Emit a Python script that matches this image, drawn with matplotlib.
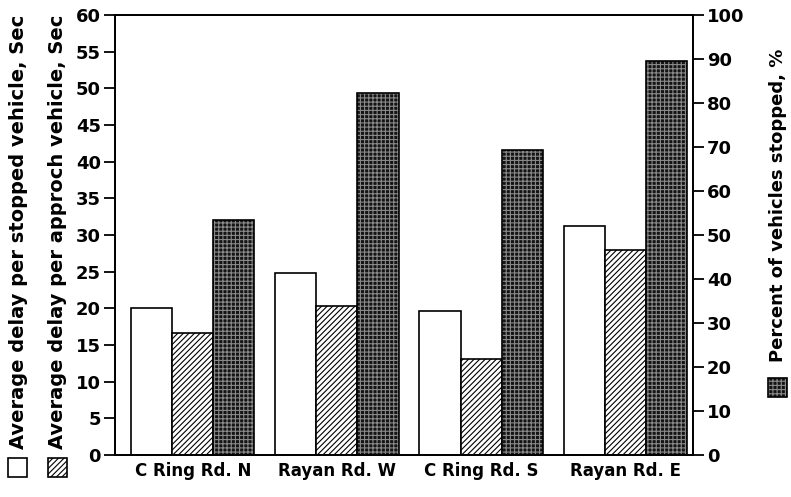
import numpy as np
import matplotlib
matplotlib.use("Agg")
import matplotlib.pyplot as plt
from matplotlib.patches import Rectangle

plt.rcParams["font.family"] = ["DejaVu Sans"]
plt.rcParams["font.weight"] = "bold"
plt.rcParams["hatch.linewidth"] = 0.8

# data
approaches = ["C Ring Rd. N", "Rayan Rd. W", "C Ring Rd. S", "Rayan Rd. E"]
delay_stopped = [20.0, 24.8, 19.7, 31.2]      # sec, left axis
delay_approach = [16.6, 20.3, 13.1, 28.0]     # sec, left axis
pct_stopped = [53.3, 82.2, 69.2, 89.5]        # %, right axis

fig = plt.figure(figsize=(7.91, 4.97), dpi=100)
ax = fig.add_axes([0.1454, 0.0845, 0.7306, 0.8855])
ax2 = ax.twinx()

x = np.arange(len(approaches))
w = 0.285

ax.bar(x - w, delay_stopped, w, color="white", edgecolor="black", linewidth=1.2)
ax.bar(x, delay_approach, w, color="white", edgecolor="black", hatch="//////", linewidth=1.2)
# dark stippled bars: dense grey grid on near-black face
ax2.bar(x + w, pct_stopped, w, color="#141414", edgecolor="#8a8a8a", hatch="++++", linewidth=0)
ax2.bar(x + w, pct_stopped, w, fill=False, edgecolor="black", linewidth=1.2)

ax.set_xlim(-0.54, 3.47)
ax.set_ylim(0, 60)
ax2.set_ylim(0, 100)
ax.set_yticks(np.arange(0, 61, 5))
ax2.set_yticks(np.arange(0, 101, 10))
ax.set_xticks(x)
ax.set_xticklabels(approaches, fontsize=12, fontweight="bold")

for a in (ax, ax2):
    for s in a.spines.values():
        s.set_linewidth(1.3)
ax.tick_params(axis="y", direction="out", length=8, width=1.3, labelsize=13, pad=2)
ax2.tick_params(axis="y", direction="out", length=8, width=1.3, labelsize=13, pad=2)
ax.tick_params(axis="x", length=0, pad=5)
for lab in ax.get_yticklabels() + ax2.get_yticklabels():
    lab.set_fontweight("bold")

# axis titles with legend swatches
W, H = 791, 497
def px(xp, yp):
    return xp / W, 1 - yp / H

fig.text(*px(19, 449), "Average delay per stopped vehicle, Sec", rotation=90,
         ha="center", va="bottom", fontsize=14, fontweight="bold")
fig.text(*px(58, 449), "Average delay per approch vehicle, Sec", rotation=90,
         ha="center", va="bottom", fontsize=14, fontweight="bold")
fig.text(*px(778, 362), "Percent of vehicles stopped, %", rotation=90,
         ha="center", va="bottom", fontsize=13, fontweight="bold")

sw = 19
fig.patches.append(Rectangle(px(8, 477), sw / W, sw / H, transform=fig.transFigure,
                             facecolor="white", edgecolor="black", linewidth=1.2))
fig.patches.append(Rectangle(px(48, 477), sw / W, sw / H, transform=fig.transFigure,
                             facecolor="white", edgecolor="black", hatch="//////", linewidth=1.2))
fig.patches.append(Rectangle(px(768, 397), sw / W, sw / H, transform=fig.transFigure,
                             facecolor="#141414", edgecolor="#8a8a8a", hatch="++++", linewidth=0))
fig.patches.append(Rectangle(px(768, 397), sw / W, sw / H, transform=fig.transFigure,
                             fill=False, edgecolor="black", linewidth=1.2))

fig.savefig("out.png", dpi=100)
